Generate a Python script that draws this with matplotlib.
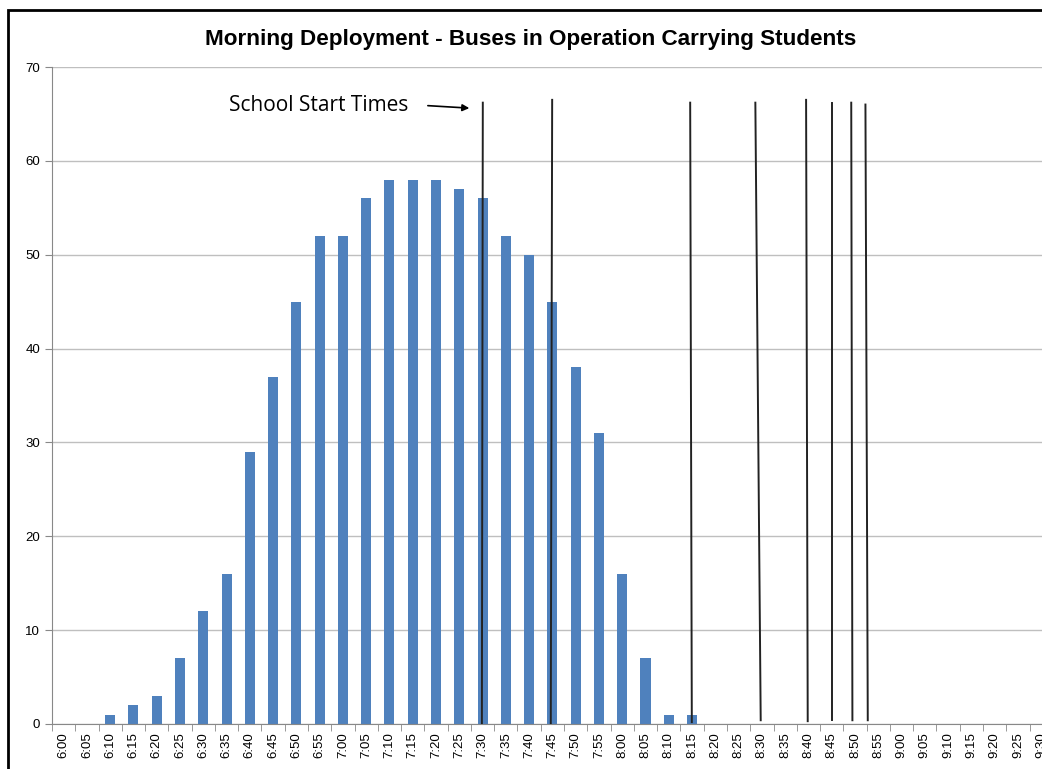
import matplotlib.pyplot as plt
import matplotlib.patches as patches
import numpy as np

# time slots 6:00 .. 9:30, every 5 minutes
times = []
for h in [6, 7, 8, 9]:
    for m in range(0, 60, 5):
        if h == 9 and m > 30:
            break
        times.append('%d:%02d' % (h, m))

buses = [0, 0, 1, 2, 3, 7, 12, 16, 29, 37, 45, 52, 52, 56, 58, 58, 58, 57,
         56, 52, 50, 45, 38, 31, 16, 7, 1, 1,
         0, 0, 0, 0, 0, 0, 0, 0, 0, 0, 0, 0, 0, 0, 0]

# hand drawn start time lines (category positions at top / bottom)
start_top = [18.01, 20.99, 26.92, 29.72, 31.90, 33.01, 33.84, 34.45]
start_bot = [17.97, 20.93, 26.99, 29.95, 31.97, 33.01, 33.89, 34.55]
start_y_top = [66.2, 66.5, 66.2, 66.2, 66.5, 66.2, 66.2, 66.0]
start_y_bot = [0.0, 0.0, 0.2, 0.4, 0.3, 0.4, 0.4, 0.4]

plt.rcParams['font.family'] = ['Liberation Sans Narrow', 'Liberation Sans', 'DejaVu Sans']

fig = plt.figure(figsize=(10.42, 7.69), dpi=100)
# outer border of the pasted chart
fig.patches.append(patches.Rectangle((8/1042, -0.1), 1.2, 1 - 10/769 + 0.1,
                                     transform=fig.transFigure, fill=False,
                                     edgecolor='black', linewidth=2))

ax = fig.add_axes([52/1042, 1 - 724/769, 1000.8/1042, 657/769])
x = np.arange(len(times))
ax.bar(x, buses, width=0.43, color='#4F81BD', zorder=2)

for xt, xb, yt, yb in zip(start_top, start_bot, start_y_top, start_y_bot):
    ax.plot([xb, xt], [yb, yt], color='#222222', linewidth=1.4, zorder=3)

ax.annotate('', xy=(17.55, 65.6), xytext=(15.53, 65.9),
            arrowprops=dict(arrowstyle='-|>', color='black', lw=1.2,
                            mutation_scale=10))
ax.text(14.8, 65.9, 'School Start Times', ha='right', va='center',
        fontsize=15, family=['Open Sans', 'DejaVu Sans'])

ax.set_xlim(-0.5, len(times) - 0.5)
ax.set_ylim(0, 70)
ax.set_yticks(np.arange(0, 71, 10))
ax.tick_params(axis='y', labelsize=9.5, length=5, color='#888888')
ax.set_xticks(x)
ax.set_xticklabels(times, rotation=90, fontsize=9.5)
ax.set_xticks(np.arange(-0.5, len(times), 1), minor=True)
ax.tick_params(axis='x', which='major', length=0, pad=6)
ax.tick_params(axis='x', which='minor', length=5, color='#888888')
ax.grid(axis='y', color='#BFBFBF', linewidth=1, zorder=0)
ax.set_axisbelow(True)
for s in ['top', 'right']:
    ax.spines[s].set_visible(False)
ax.spines['left'].set_color('#888888')
ax.spines['bottom'].set_color('#888888')

fig.text(531/1042, 1 - 40/769, 'Morning Deployment - Buses in Operation Carrying Students',
         ha='center', va='center', fontsize=16.2, fontweight='bold')

fig.savefig('out.png', dpi=100)
